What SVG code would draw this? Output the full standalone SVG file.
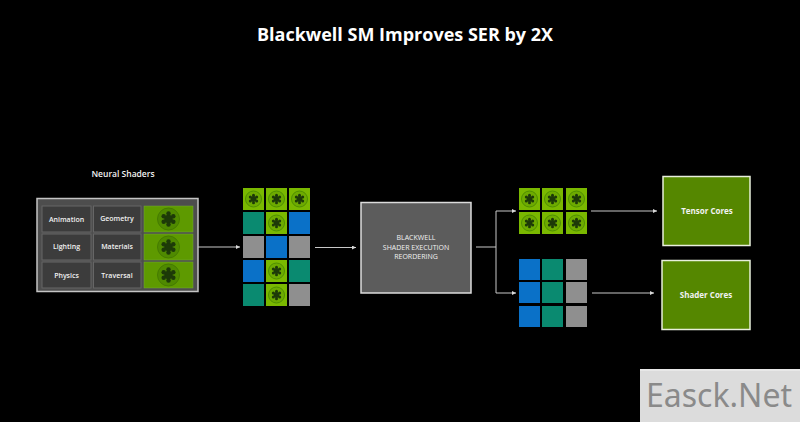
<svg xmlns="http://www.w3.org/2000/svg" xmlns:xlink="http://www.w3.org/1999/xlink" width="800" height="422" viewBox="0 0 800 422">
<style>
text{font-family:"Open Sans","Liberation Sans",sans-serif;fill:#f2f2f2;text-anchor:middle}
.title{font-size:18px;font-weight:700;fill:#fff}
.lbl{font-size:7px;font-weight:600}
.cell{fill:#3c3c3c;stroke:#666;stroke-width:1}
.core{fill:#558700;stroke:#e8efdc;stroke-width:1.5}
.cap{font-size:8px;font-weight:700}
.g{fill:#7ab800}.t{fill:#0a8a70}.b{fill:#0a71c8}.y{fill:#8f8f8f}
.line{fill:none;stroke:#c8c8c8;stroke-width:1}
.star{fill:#1d3a08}
</style>
<defs>
<marker id="arrow" markerWidth="5" markerHeight="5" refX="4" refY="2" orient="auto"><path d="M0 0L4 2L0 4Z" fill="#d8d8d8"/></marker>
<g id="star" class="star"><circle r="2.900"/><circle cx="0" cy="-3.700" r="1.500"/><circle cx="3.200" cy="-1.900" r="1.500"/><circle cx="3.200" cy="1.900" r="1.500"/><circle cx="0" cy="3.700" r="1.500"/><circle cx="-3.200" cy="1.900" r="1.500"/><circle cx="-3.200" cy="-1.900" r="1.500"/></g>
<g id="tile"><rect x="-10.500" y="-11" width="21" height="22" class="g"/><circle r="8" fill="#6dab00" stroke="#4f8f00" stroke-width="1"/><use xlink:href="#star"/></g>
<g id="wide"><rect x="-24.500" y="-13" width="49" height="26" fill="#5e9a00" stroke="#76a83a" stroke-width=".5"/><circle r="11" fill="#4f8a00" stroke="#457a00" stroke-width="1"/><use xlink:href="#star" transform="scale(1.500)"/></g>
</defs>
<rect width="800" height="422" fill="#000"/>
<text class="title" x="405" y="41">Blackwell SM Improves SER by 2X</text>
<g id="connectors">
<path class="line" marker-end="url(#arrow)" d="M198 247H240"/>
<path class="line" marker-end="url(#arrow)" d="M315 247.500H356"/>
<path class="line" d="M476 247H496"/>
<path class="line" marker-end="url(#arrow)" d="M496 211H516"/>
<path class="line" d="M496 211V293"/>
<path class="line" marker-end="url(#arrow)" d="M496 293H516"/>
<path class="line" marker-end="url(#arrow)" d="M591 211H657"/>
<path class="line" marker-end="url(#arrow)" d="M592 293H654"/>
</g>
<g id="neural-shaders">
<text x="123" y="177" font-size="8.500" font-weight="600">Neural Shaders</text>
<rect x="37" y="198.500" width="161" height="93" fill="#4d4d4d" stroke="#c4c4c4" stroke-width="1.500"/>
<rect class="cell" x="42" y="206" width="49" height="26"/><text class="lbl" x="66.500" y="221.500">Animation</text>
<rect class="cell" x="93.500" y="206" width="47.500" height="26"/><text class="lbl" x="117" y="221">Geometry</text>
<rect class="cell" x="42" y="234" width="49" height="26"/><text class="lbl" x="66.500" y="249">Lighting</text>
<rect class="cell" x="93.500" y="234" width="47.500" height="26"/><text class="lbl" x="117" y="249">Materials</text>
<rect class="cell" x="42" y="262" width="49" height="26"/><text class="lbl" x="66.500" y="278">Physics</text>
<rect class="cell" x="93.500" y="262" width="47.500" height="26"/><text class="lbl" x="117" y="278">Traversal</text>
<use xlink:href="#wide" x="168.500" y="219"/>
<use xlink:href="#wide" x="168.500" y="247"/>
<use xlink:href="#wide" x="168.500" y="275"/>
</g>
<g id="mixed-grid">
<use xlink:href="#tile" x="253.500" y="199"/><use xlink:href="#tile" x="276.500" y="199"/><use xlink:href="#tile" x="299.500" y="199"/>
<rect class="t" x="243" y="212" width="21" height="22"/><use xlink:href="#tile" x="276.500" y="223"/><rect class="b" x="289" y="212" width="21" height="22"/>
<rect class="y" x="243" y="236" width="21" height="22"/><rect class="b" x="266" y="236" width="21" height="22"/><rect class="y" x="289" y="236" width="21" height="22"/>
<rect class="b" x="243" y="260" width="21" height="22"/><use xlink:href="#tile" x="276.500" y="271"/><rect class="t" x="289" y="260" width="21" height="22"/>
<rect class="t" x="243" y="284" width="21" height="22"/><use xlink:href="#tile" x="276.500" y="295"/><rect class="y" x="289" y="284" width="21" height="22"/>
</g>
<g id="ser-block">
<rect x="361" y="202.500" width="110" height="90.500" fill="#5c5c5c" stroke="#dcdcdc" stroke-width="1.500"/>
<text class="lbl" x="416" y="240" style="font-weight:400">BLACKWELL</text>
<text class="lbl" x="416" y="250" style="font-weight:400">SHADER EXECUTION</text>
<text class="lbl" x="416" y="259" style="font-weight:400">REORDERING</text>
</g>
<g id="tensor-grid">
<use xlink:href="#tile" x="529.500" y="199"/><use xlink:href="#tile" x="552.500" y="199"/><use xlink:href="#tile" x="576.500" y="199"/>
<use xlink:href="#tile" x="529.500" y="223"/><use xlink:href="#tile" x="552.500" y="223"/><use xlink:href="#tile" x="576.500" y="223"/>
</g>
<g id="shader-grid">
<rect class="b" x="519" y="259" width="21" height="21"/><rect class="t" x="542" y="259" width="21" height="21"/><rect class="y" x="566" y="259" width="21" height="21"/>
<rect class="b" x="519" y="282" width="21" height="21"/><rect class="t" x="542" y="282" width="21" height="21"/><rect class="y" x="566" y="282" width="21" height="21"/>
<rect class="b" x="519" y="306" width="21" height="21"/><rect class="t" x="542" y="306" width="21" height="21"/><rect class="y" x="566" y="306" width="21" height="21"/>
</g>
<g id="tensor-cores">
<rect class="core" x="663" y="176.500" width="87" height="69"/>
<text class="cap" x="707" y="214">Tensor Cores</text>
</g>
<g id="shader-cores">
<rect class="core" x="662" y="260.500" width="88" height="69"/>
<text class="cap" x="706" y="298">Shader Cores</text>
</g>
<g id="watermark">
<rect x="640" y="369" width="160" height="53" fill="#dcdcdc"/>
<rect x="640" y="369" width="160" height="2" fill="#e8e8e8"/>
<text x="719" y="407" font-size="32" style="font-family:'Noto Sans','Liberation Sans',sans-serif;fill:#8a8a8a">Easck.Net</text>
</g>
</svg>
